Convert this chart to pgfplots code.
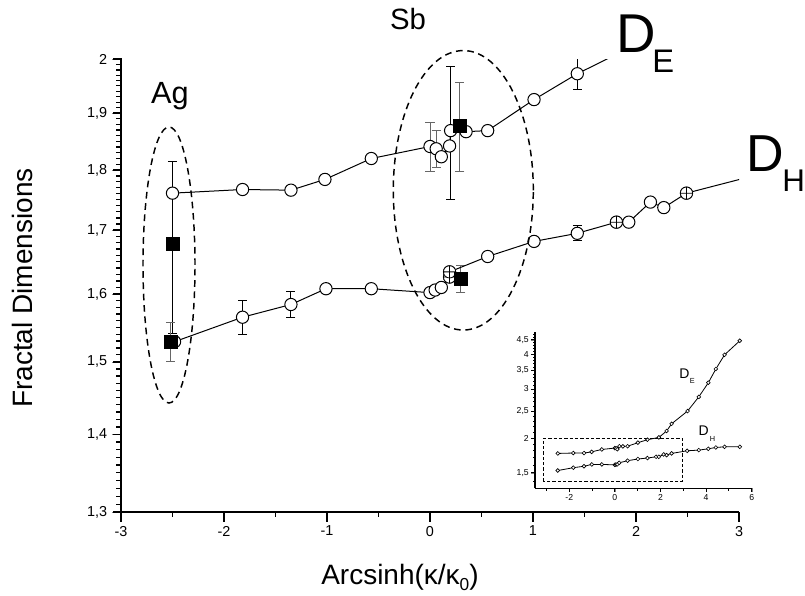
\documentclass[border=0pt]{standalone}
\usepackage{fontspec}
\setmainfont{Liberation Sans}
\usepackage{pgfplots}
\pgfplotsset{compat=1.18}

% reference pixel -> picture pt (main axis origin at px 121,512.3)
\newcommand{\px}[2]{({(#1-121)*0.75pt},{(512.3-#2)*0.75pt})}

\pgfplotsset{
  circ/.style={line width=0.75pt, black, mark=*, mark size=4.6pt,
    mark options={fill=white, draw=black, line width=0.75pt}},
  ebar/.style 2 args={only marks, mark=none, forget plot,
    error bars/.cd, y dir=both, y explicit,
    error bar style={draw=#1, line width=0.75pt},
    error mark options={rotate=90, draw=#1, mark size=#2, line width=0.75pt}},
}

\begin{document}
\begin{tikzpicture}
\begin{axis}[
  name=main, at={(0,0)}, anchor=south west, scale only axis,
  width=463.5pt, height=339.75pt,
  xmin=-3, xmax=3, ymin=1.3, ymax=2, ymode=log,
  axis x line*=bottom, axis y line*=left,
  axis line style={line width=1.5pt, -},
  xtick={-3,-2,-1,0,1,2,3}, xticklabels={-3,-2,-1,0,1,2,3},
  ytick={1.3,1.4,1.5,1.6,1.7,1.8,1.9,2},
  yticklabels={{1,3},{1,4},{1,5},{1,6},{1,7},{1,8},{1,9},2},
  tick align=outside, major tick length=6.8pt,
  ticklabel style={font=\fontsize{10.8}{12}\selectfont},
]
% error bars behind the circles
\addplot[ebar={black}{3.4pt}] coordinates {
  (0.20,1.869) +- (0,0.118) (1.01,1.925) +- (0,0.008) (1.43,1.973) +- (0,0.030)
  (-1.82,1.565) +- (0,0.025) (-1.35,1.584) +- (0,0.019) (0.56,1.658) +- (0,0.006)
  (1.01,1.682) +- (0,0.006) (1.43,1.695) +- (0,0.012) (-2.50,1.678) +- (0,0.137)};
\addplot[ebar={black!60}{3.4pt}] coordinates {
  (0.00,1.841) +- (0,0.043) (0.06,1.837) +- (0,0.032)
  (-2.52,1.529) +- (0,0.028) (0.29,1.877) +- (0,0.080) (0.30,1.623) +- (0,0.021)};
% lines leaving the axis
\addplot[line width=0.75pt, black, mark=none, forget plot] coordinates {(1.43,1.973) (1.90,2.018)};
\addplot[line width=0.75pt, black, mark=none, forget plot] coordinates {(2.49,1.761) (3.20,1.793)};
% D_E
\addplot[circ] coordinates {(-2.50,1.761) (-1.82,1.767) (-1.35,1.766) (-1.02,1.784)
  (-0.57,1.820) (0.00,1.841) (0.06,1.837) (0.11,1.823) (0.19,1.842) (0.20,1.869)
  (0.35,1.867) (0.56,1.869) (1.01,1.925) (1.43,1.973)};
% D_H
\addplot[circ] coordinates {(-2.48,1.529) (-1.82,1.565) (-1.35,1.584) (-1.01,1.608)
  (-0.57,1.608) (0.00,1.602) (0.05,1.606) (0.11,1.610) (0.19,1.626) (0.19,1.634)
  (0.56,1.658) (1.01,1.682) (1.43,1.695) (1.81,1.713) (1.93,1.713) (2.14,1.746)
  (2.27,1.737) (2.49,1.761)};
% points whose tiny error bars show inside the circle
\addplot[only marks, mark=oplus*, mark size=4.6pt,
  mark options={fill=white, draw=black, line width=0.6pt}] coordinates {
  (0.19,1.626) (0.19,1.634) (1.81,1.713) (2.49,1.761)};
% squares
\addplot[only marks, mark=square*, mark size=5pt, black] coordinates {
  (-2.50,1.678) (-2.52,1.529) (0.29,1.877) (0.30,1.623)};
\end{axis}

% inset
\begin{axis}[
  name=inset, at={(310.5pt,18pt)}, anchor=south west, scale only axis,
  width=162.5pt, height=117.5pt,
  xmin=-3.5, xmax=6, ymin=1.32, ymax=4.82, ymode=log,
  axis x line*=bottom, axis y line*=left,
  axis line style={line width=0.9pt, -},
  xtick={-2,0,2,4,6}, xticklabels={-2,0,2,4,6},
  ytick={1.5,2,2.5,3,3.5,4,4.5},
  yticklabels={{1,5},2,{2,5},3,{3,5},4,{4,5}},
  tick align=outside, major tick length=3pt,
  ticklabel style={font=\fontsize{6.5}{7}\selectfont, inner sep=1.5pt},
  clip=false,
]
\draw[dashed, line width=0.7pt, dash pattern=on 2.5pt off 1.5pt]
  (axis cs:-3.13,1.40) rectangle (axis cs:2.96,2.0);
\addplot[line width=0.6pt, black, mark=*, mark size=1.4pt,
  mark options={fill=white, draw=black, line width=0.5pt}] coordinates {
  (-2.50,1.761) (-1.82,1.767) (-1.35,1.766) (-1.02,1.784) (-0.57,1.820) (0.00,1.841)
  (0.06,1.837) (0.11,1.823) (0.20,1.869) (0.35,1.867) (0.56,1.869) (1.01,1.925)
  (1.43,1.973) (1.93,2.01) (2.27,2.12) (2.49,2.25) (3.19,2.50) (3.68,2.81)
  (4.10,3.16) (4.43,3.54) (4.81,3.98) (5.48,4.47)};
\addplot[line width=0.6pt, black, mark=*, mark size=1.4pt,
  mark options={fill=white, draw=black, line width=0.5pt}] coordinates {
  (-2.50,1.529) (-1.82,1.565) (-1.35,1.584) (-1.01,1.608) (-0.57,1.608) (0.00,1.602)
  (0.05,1.606) (0.11,1.610) (0.19,1.630) (0.56,1.658) (1.01,1.682) (1.43,1.695)
  (1.81,1.713) (1.93,1.713) (2.14,1.746) (2.27,1.737) (2.49,1.761) (3.17,1.80)
  (3.68,1.81) (4.10,1.83) (4.43,1.85) (4.81,1.86) (5.48,1.86)};
\end{axis}

% dashed ellipses
\draw[line width=1.1pt, dash pattern=on 5pt off 3.5pt] \px{169}{265} ellipse [x radius=19.5pt, y radius=103.5pt];
\draw[line width=1.1pt, dash pattern=on 5pt off 3.5pt] \px{463.3}{190.3} ellipse [x radius=52.5pt, y radius=104.8pt];

% labels
\node[anchor=base, inner sep=0pt, font=\fontsize{23}{26}\selectfont] at \px{170}{104} {Ag};
\node[anchor=base, inner sep=0pt, font=\fontsize{22}{25}\selectfont] at \px{408}{30} {Sb};
\node[anchor=base west, inner sep=0pt, font=\fontsize{41}{45}\selectfont] at \px{616}{52.7} {D};
\node[anchor=base west, inner sep=0pt, font=\fontsize{24.5}{27}\selectfont] at \px{652}{72.7} {E};
\node[anchor=base west, inner sep=0pt, font=\fontsize{39}{43}\selectfont] at \px{746}{171.7} {D};
\node[anchor=base west, inner sep=0pt, font=\fontsize{23.5}{26}\selectfont] at \px{782}{191.7} {H};
\node[anchor=base west, inner sep=0pt, font=\fontsize{10.5}{12}\selectfont] at \px{679}{378.3} {D};
\node[anchor=base west, inner sep=0pt, font=\fontsize{5.5}{6}\selectfont] at \px{689.5}{384} {E};
\node[anchor=base west, inner sep=0pt, font=\fontsize{10.5}{12}\selectfont] at \px{698.3}{436} {D};
\node[anchor=base west, inner sep=0pt, font=\fontsize{5.5}{6}\selectfont] at \px{709.5}{441.7} {H};
\node[rotate=90, inner sep=0pt, font=\fontsize{21}{24}\selectfont] at \px{22}{288} {Fractal Dimensions};
\node[anchor=base west, inner sep=0pt, font=\fontsize{21}{24}\selectfont] at \px{321}{584.5}
  {Arcsinh(κ/κ\raisebox{-0.2em}{\fontsize{13}{14}\selectfont 0})};

% tick marks, drawn as small filled bars on top of everything
\begin{scope}[black]
\foreach \x in {-3,-2,-1,0,1,2,3}
  \fill ({(\x+3)*77.25pt-0.65pt},0.5pt) rectangle ++(1.3pt,-8pt);
\foreach \x in {-2.5,-1.5,-0.5,0.5,1.5,2.5}
  \fill ({(\x+3)*77.25pt-0.55pt},0.5pt) rectangle ++(1.1pt,-4pt);
\foreach \v in {1.3,1.4,1.5,1.6,1.7,1.8,1.9,2.0}
  \fill (0.5pt,{ln(\v/1.3)/ln(2/1.3)*339.75pt-0.65pt}) rectangle ++(-6.8pt,1.3pt);
\foreach \v in {1.31,1.32,1.33,1.34,1.35,1.36,1.37,1.38,1.39,1.41,1.42,1.43,1.44,1.45,1.46,1.47,1.48,1.49,1.51,1.52,1.53,1.54,1.55,1.56,1.57,1.58,1.59,1.61,1.62,1.63,1.64,1.65,1.66,1.67,1.68,1.69,1.71,1.72,1.73,1.74,1.75,1.76,1.77,1.78,1.79,1.81,1.82,1.83,1.84,1.85,1.86,1.87,1.88,1.89,1.91,1.92,1.93,1.94,1.95,1.96,1.97,1.98,1.99}
  \fill (0.5pt,{ln(\v/1.3)/ln(2/1.3)*339.75pt-0.45pt}) rectangle ++(-4pt,0.9pt);
\end{scope}
\begin{scope}[black, shift={(310.5pt,18pt)}]
\foreach \x in {-2,0,2,4,6}
  \fill ({(\x+3.5)*17.105pt-0.35pt},0.3pt) rectangle ++(0.7pt,-3.3pt);
\foreach \x in {-3,-1,1,3,5}
  \fill ({(\x+3.5)*17.105pt-0.3pt},0.3pt) rectangle ++(0.6pt,-2pt);
\foreach \v in {1.5,2,2.5,3,3.5,4,4.5}
  \fill (0.3pt,{ln(\v/1.32)/ln(4.82/1.32)*117.5pt-0.35pt}) rectangle ++(-3.3pt,0.7pt);
\foreach \v in {1.4,1.6,1.7,1.8,1.9,2.1,2.2,2.3,2.4,2.6,2.7,2.8,2.9,3.1,3.2,3.3,3.4,3.6,3.7,3.8,3.9,4.1,4.2,4.3,4.4,4.6,4.7}
  \fill (0.3pt,{ln(\v/1.32)/ln(4.82/1.32)*117.5pt-0.25pt}) rectangle ++(-2pt,0.5pt);
\end{scope}

\pgfresetboundingbox
\path[use as bounding box] \px{0}{595} rectangle \px{805}{0};
\end{tikzpicture}
\end{document}
